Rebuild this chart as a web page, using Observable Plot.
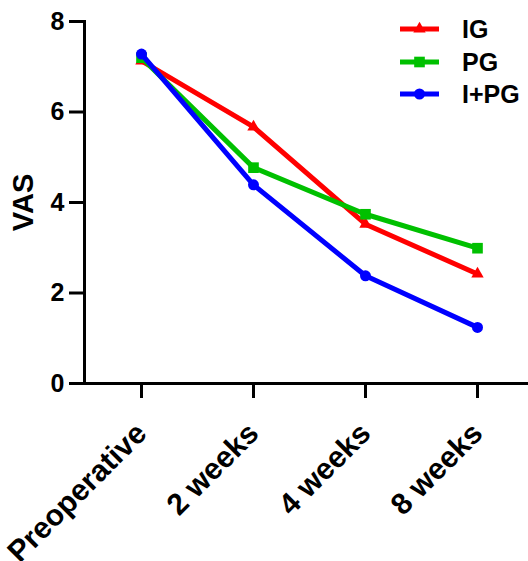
<!DOCTYPE html>
<html>
<head>
<meta charset="utf-8">
<script src="https://cdn.jsdelivr.net/npm/d3@7"></script>
<script src="https://cdn.jsdelivr.net/npm/@observablehq/plot@0.6"></script>
<style>
  html, body { margin: 0; padding: 0; background: #fff; }
  #wrap { position: relative; width: 528px; height: 561px; font-family: "Liberation Sans", Arial, sans-serif; font-weight: bold; }
  .lg-row { position: absolute; height: 26px; line-height: 26px; font-size: 25px; color: #000; }
</style>
</head>
<body>
<div id="wrap"></div>
<script>
const categories = ["Preoperative", "2 weeks", "4 weeks", "8 weeks"];
const seriesNames = ["IG", "PG", "I+PG"];
const valuesIG = [7.13, 5.67, 3.52, 2.42];
const valuesPG = [7.20, 4.77, 3.74, 2.99];
const valuesIPG = [7.28, 4.39, 2.38, 1.24];
const yTicks = [0, 2, 4, 6, 8];
const colors = ["#ff0000", "#00c000", "#0000ff"];
const symbols = ["triangle", "square", "circle"];
const radii = [4.6, 6.0, 5.5];

const allValues = [valuesIG, valuesPG, valuesIPG];
const rows = [];
seriesNames.forEach((s, i) => categories.forEach((c, j) => rows.push({series: s, cat: c, value: allValues[i][j]})));

const marks = [
  Plot.frame({anchor: "left", stroke: "black", strokeWidth: 3}),
  Plot.ruleY([0], {stroke: "black", strokeWidth: 3}),
  Plot.axisY({ticks: yTicks, tickSize: 15, tickPadding: 5, fontSize: 25, strokeWidth: 3, label: null}),
  Plot.axisY({ticks: [], label: "VAS", labelAnchor: "center", labelArrow: "none", labelOffset: 72, fontSize: 29}),
  Plot.axisX({tickSize: 15, tickPadding: 30, tickRotate: -45, fontSize: 30, strokeWidth: 3, label: null})
];
seriesNames.forEach((s, i) => {
  const d = rows.filter(r => r.series === s);
  marks.push(Plot.line(d, {x: "cat", y: "value", stroke: colors[i], strokeWidth: 5}));
  marks.push(Plot.dot(d, {x: "cat", y: "value", fill: colors[i], stroke: "none", symbol: symbols[i], r: radii[i]}));
});

const chart = Plot.plot({
  width: 528,
  height: 561,
  marginTop: 21,
  marginBottom: 178,
  marginLeft: 84,
  marginRight: 0,
  x: {type: "point", domain: categories, range: [140, 477], padding: 0},
  y: {domain: [0, 8]},
  style: {fontFamily: "'Liberation Sans', Arial, sans-serif", fontWeight: "bold", color: "black", background: "white", overflow: "visible"},
  marks
});
const wrap = document.getElementById("wrap");
wrap.appendChild(chart);

// Legend (top right)
const symMap = {triangle: d3.symbolTriangle, square: d3.symbolSquare, circle: d3.symbolCircle};
const rowCenters = [29, 62, 94];
seriesNames.forEach((s, i) => {
  const row = document.createElement("div");
  row.className = "lg-row";
  row.style.left = "400px";
  row.style.top = (rowCenters[i] - 13) + "px";
  const path = d3.symbol(symMap[symbols[i]], Math.PI * radii[i] * radii[i])();
  row.innerHTML = `<svg width="40" height="26" style="position:absolute;left:0;top:0">
    <line x1="0" x2="39" y1="13" y2="13" stroke="${colors[i]}" stroke-width="5"/>
    <path d="${path}" transform="translate(19.5,13)" fill="${colors[i]}"/>
  </svg><span style="position:absolute;left:62px;top:0;white-space:nowrap">${s}</span>`;
  wrap.appendChild(row);
});
</script>
</body>
</html>
